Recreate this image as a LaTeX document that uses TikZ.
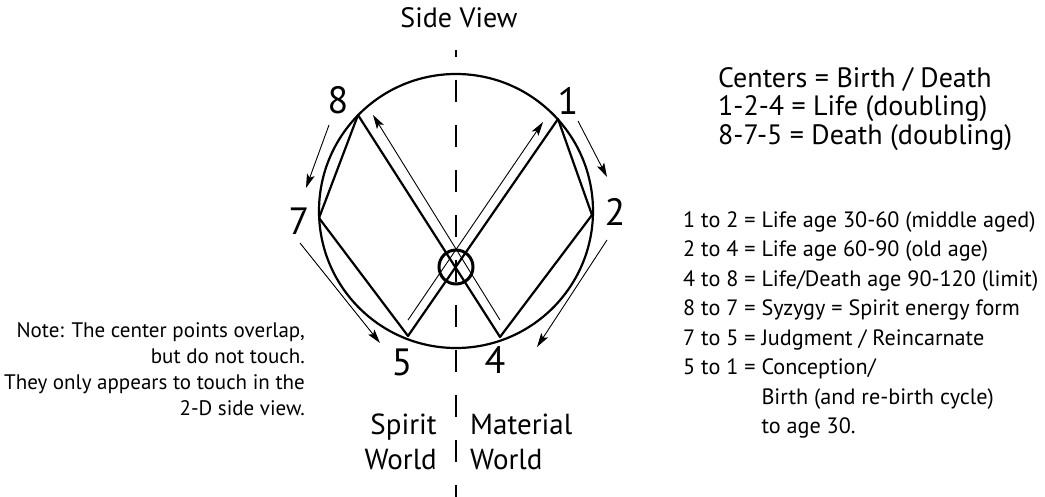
\documentclass[tikz,border=0pt]{standalone}
\usepackage{fontspec}
\setmainfont{PT Sans}
\usetikzlibrary{arrows.meta}

\begin{document}
\begin{tikzpicture}[
    x=1pt, y=-1pt,
    rim/.style={line width=2.2pt},
    chord/.style={line width=2.2pt, line join=round, line cap=round},
    hub/.style={line width=3pt},
    axis/.style={line width=2.4pt, dash pattern=on 22pt off 23pt, dash phase=15pt},
    flow/.style={line width=0.9pt, -{Stealth[length=14pt,width=8pt,inset=3pt]}},
    num/.style={inner sep=0pt, font=\fontsize{38}{40}\selectfont},
    heading/.style={inner sep=0pt, anchor=base, font=\fontsize{28}{30}\selectfont},
    key/.style={inner sep=0pt, font=\fontsize{28}{28}\selectfont},
    steps/.style={inner sep=0pt, font=\fontsize{22.2}{29.5}\selectfont},
    note/.style={inner sep=0pt, font=\fontsize{21}{26}\selectfont},
    world/.style={inner sep=0pt, font=\fontsize{29}{35}\selectfont}
]
    \useasboundingbox (0,0) rectangle (1045,497);
    % points on the rim
    \coordinate (c) at (456,211);
    \coordinate (p1) at (558,119);
    \coordinate (p2) at (592,215);
    \coordinate (p4) at (500,337);
    \coordinate (p5) at (408,336);
    \coordinate (p7) at (319,218);
    \coordinate (p8) at (358,115);
    \coordinate (mid) at (456,267);
    \coordinate (top) at (456,50);
    \coordinate (bot) at (456,497);

    \draw[rim] (c) circle[radius=137];
    \draw[chord] (p8) -- (p7) -- (p5);
    \draw[chord] (p1) -- (p2) -- (p4);
    \draw[chord] (p8) -- (p4);
    \draw[chord] (p1) -- (p5);
    \draw[hub] (mid) circle[radius=17];
    \draw[axis] (top) -- (bot);

    % arrows along the crossing lines
    \coordinate (a1t) at (500,320);
    \coordinate (a1h) at (373,115);
    \coordinate (a2t) at (408,320);
    \coordinate (a2h) at (543,122);
    \draw[flow] (a1t) -- (a1h);
    \draw[flow] (a2t) -- (a2h);

    % arrows round the rim
    \coordinate (o87t) at (329,125);
    \coordinate (o87h) at (306,188);
    \coordinate (o12t) at (578,121);
    \coordinate (o12h) at (607,177);
    \coordinate (o24t) at (607,240);
    \coordinate (o24h) at (537,347);
    \coordinate (o75t) at (300,243);
    \coordinate (o75h) at (380,343);
    \draw[flow] (o87t) -- (o87h);
    \draw[flow] (o12t) -- (o12h);
    \draw[flow] (o24t) -- (o24h);
    \draw[flow] (o75t) -- (o75h);

    \node[num] (n8) at (338,100) {8};
    \node[num] (n1) at (568,101) {1};
    \node[num] (n2) at (615,212) {2};
    \node[num] (n7) at (299,221) {7};
    \node[num] (n5) at (402,362) {5};
    \node[num] (n4) at (495,360) {4};

    \node[heading] (side) at (459,28) {Side View};

    \node[key, anchor=north west] (centers) at (718,67.4) {\begin{tabular}{@{}l@{}}
        Centers = Birth / Death\\
        1-2-4 = Life (doubling)\\
        8-7-5 = Death (doubling)
    \end{tabular}};

    \node[steps, anchor=north west] (ages) at (683,206.3) {\begin{tabular}{@{}l@{\ }l@{}}
        1 to 2 = & Life age 30-60 (middle aged)\\
        2 to 4 = & Life age 60-90 (old age)\\
        4 to 8 = & Life/Death age 90-120 (limit)\\
        8 to 7 = & Syzygy = Spirit energy form\\
        7 to 5 = & Judgment / Reincarnate\\
        5 to 1 = & Conception/\\
                 & Birth (and re-birth cycle)\\
                 & to age 30.
    \end{tabular}};

    \node[note, anchor=north east] (remark) at (305,318.8) {\begin{tabular}{@{}r@{}}
        Note: The center points overlap,\\
        but do not touch.\\
        They only appears to touch in the\\
        2-D side view.
    \end{tabular}};

    \node[world, anchor=north east] (spirit) at (437,409.5) {\begin{tabular}{@{}r@{}}
        Spirit\\ World
    \end{tabular}};
    \node[world, anchor=north west] (material) at (470,409.5) {\begin{tabular}{@{}l@{}}
        Material\\ World
    \end{tabular}};
\end{tikzpicture}
\end{document}
